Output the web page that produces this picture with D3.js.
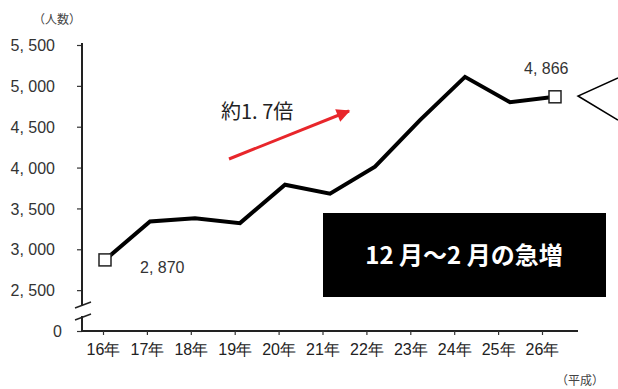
<!DOCTYPE html>
<html>
<head>
<meta charset="utf-8">
<script src="https://cdn.jsdelivr.net/npm/d3@7"></script>
<style>
  body { margin: 0; background: #fff; }
  svg { display: block; font-family: "Noto Sans CJK JP", "Noto Sans", sans-serif; }
</style>
</head>
<body>
<script>
const years = ["16年", "17年", "18年", "19年", "20年", "21年", "22年", "23年", "24年", "25年", "26年"];
const counts = [2870, 3340, 3380, 3320, 3790, 3680, 4010, 4580, 5110, 4800, 4866];
const yTicks = [2000, 2500, 3000, 3500, 4000, 4500, 5000, 5500];
const yTickLabels = ["0", "2, 500", "3, 000", "3, 500", "4, 000", "4, 500", "5, 000", "5, 500"];
const endLabels = ["2, 870", "4, 866"];

const width = 618, height = 389;

let svg = d3.select("body").append("svg")
    .attr("width", width)
    .attr("height", height);

// axis is drawn with the "0" sitting where 2,000 would be (broken axis)
let y = d3.scaleLinear().domain([2000, 5500]).range([331, 45]);
let xAxisScale = d3.scalePoint().domain(years).range([103, 542]);
let xLine = d3.scalePoint().domain(years).range([105, 555]);

// y axis
let yAxis = d3.axisLeft(y)
    .tickValues(yTicks)
    .tickFormat((d, i) => yTickLabels[i])
    .tickSize(5)
    .tickPadding(22);

let gy = svg.append("g")
    .attr("transform", "translate(82,0)")
    .call(yAxis);
gy.select(".domain").remove();
gy.selectAll(".tick line").attr("stroke", "#333").attr("stroke-width", 1.2);
gy.selectAll(".tick text")
    .attr("fill", "#333")
    .style("font-family", "'Liberation Sans', Arial, sans-serif")
    .style("font-size", "16px")
    .attr("dy", "0.35em");
gy.selectAll(".tick").filter(d => d === 2000).select("text").attr("x", -20);

// axis line with break gap
svg.append("line").attr("x1", 82).attr("x2", 82).attr("y1", y(5500) - 2).attr("y2", 306)
    .attr("stroke", "#222").attr("stroke-width", 2);
svg.append("line").attr("x1", 82).attr("x2", 82).attr("y1", 316).attr("y2", y(2000))
    .attr("stroke", "#222").attr("stroke-width", 2);
[308, 320].forEach(b => {
  svg.append("line")
    .attr("x1", 75).attr("y1", b).attr("x2", 91).attr("y2", b - 6)
    .attr("stroke", "#222").attr("stroke-width", 1.5);
});

// x axis
let xAxis = d3.axisBottom(xAxisScale).tickSize(4).tickPadding(6).tickSizeOuter(0);
let gx = svg.append("g")
    .attr("transform", "translate(0," + y(2000) + ")")
    .call(xAxis);
gx.select(".domain").attr("d", "M81,0H578").attr("stroke", "#222").attr("stroke-width", 2);
gx.selectAll(".tick line").attr("stroke", "#333").attr("stroke-width", 1.2);
gx.selectAll(".tick text")
    .attr("fill", "#222")
    .style("font-size", "16px")
    .attr("dy", "0.9em");

// unit labels
svg.append("text").attr("x", 57).attr("y", 24).attr("text-anchor", "middle")
    .attr("fill", "#444").style("font-size", "12px").text("（人数）");
svg.append("text").attr("x", 580).attr("y", 385).attr("text-anchor", "middle")
    .attr("fill", "#444").style("font-size", "12px").text("（平成）");

// line
let line = d3.line()
    .x((d, i) => xLine(years[i]))
    .y(d => y(d));

svg.append("path")
    .datum(counts)
    .attr("d", line)
    .attr("fill", "none")
    .attr("stroke", "#000")
    .attr("stroke-width", 4)
    .attr("stroke-linejoin", "miter");

// end markers
let ends = [0, counts.length - 1];
svg.selectAll("rect.marker")
    .data(ends)
    .enter().append("rect")
    .attr("class", "marker")
    .attr("x", i => xLine(years[i]) - 6)
    .attr("y", i => y(counts[i]) - 6)
    .attr("width", 12)
    .attr("height", 12)
    .attr("fill", "#fff")
    .attr("stroke", "#222")
    .attr("stroke-width", 1.5);

svg.append("text")
    .attr("x", xLine(years[0]) + 35).attr("y", y(counts[0]) + 13)
    .attr("fill", "#333").style("font-family", "'Liberation Sans', Arial, sans-serif")
    .style("font-size", "16px").text(endLabels[0]);
svg.append("text")
    .attr("x", xLine(years[10]) - 31).attr("y", y(counts[10]) - 23)
    .attr("fill", "#333").style("font-family", "'Liberation Sans', Arial, sans-serif")
    .style("font-size", "16px").text(endLabels[1]);

// red arrow
svg.append("defs").append("marker")
    .attr("id", "head")
    .attr("viewBox", "0 0 10 10")
    .attr("refX", 9).attr("refY", 5)
    .attr("markerWidth", 5).attr("markerHeight", 4.5)
    .attr("markerUnits", "strokeWidth")
    .attr("orient", "auto")
    .append("path").attr("d", "M0,0L10,5L0,10Z").attr("fill", "#e8262b");

svg.append("line")
    .attr("x1", 229).attr("y1", 159).attr("x2", 349).attr("y2", 111)
    .attr("stroke", "#e8262b").attr("stroke-width", 3)
    .attr("marker-end", "url(#head)");

svg.append("text").attr("x", 221).attr("y", 119)
    .attr("fill", "#222").style("font-size", "20px").text("約1. 7倍");

// black callout box
svg.append("rect").attr("x", 323).attr("y", 213).attr("width", 283).attr("height", 84)
    .attr("fill", "#000");
svg.append("text").attr("x", 464).attr("y", 264).attr("text-anchor", "middle")
    .attr("fill", "#fff").style("font-size", "24px").style("font-weight", "bold")
    .text("12 月～2 月の急増");

// speech bubble pointer on the right edge
svg.append("path")
    .attr("d", "M618,78L578,96L618,120")
    .attr("fill", "none").attr("stroke", "#000").attr("stroke-width", 1.5);
</script>
</body>
</html>
